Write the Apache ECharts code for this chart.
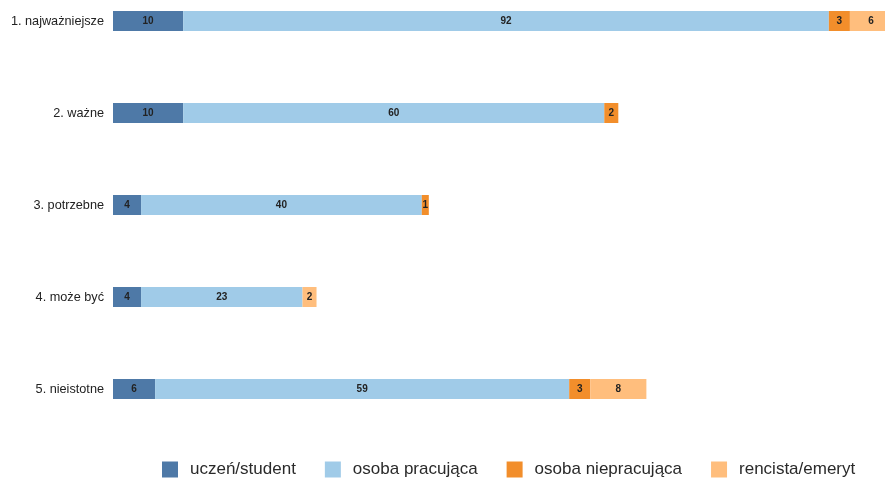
<!DOCTYPE html>
<html>
<head>
<meta charset="utf-8">
<script src="https://cdn.jsdelivr.net/npm/echarts@6/dist/echarts.min.js"></script>
<style>
  html, body { margin: 0; padding: 0; background: #fff; }
  #chart { width: 885px; height: 479px; }
</style>
</head>
<body>
<div id="chart"></div>
<script>
var kategorie = ['1. najważniejsze', '2. ważne', '3. potrzebne', '4. może być', '5. nieistotne'];
var uczen = [10, 10, 4, 4, 6];
var pracujaca = [92, 60, 40, 23, 59];
var niepracujaca = [3, 2, 1, null, 3];
var rencista = [6, null, null, 2, 8];

var dom = document.getElementById('chart');
var chart = echarts.init(dom, null, { renderer: 'canvas' });

function seria(name, data, color) {
    return {
        name: name,
        type: 'bar',
        stack: 'total',
        barWidth: 20,
        clip: false,
        data: data,
        itemStyle: { color: color },
        label: {
            show: true,
            position: 'inside',
            color: '#222',
            fontSize: 10,
            fontWeight: 'bold',
            fontFamily: 'Liberation Sans'
        }
    };
}

var option = {
    animation: false,
    // boundaryGap off: categories sit on the grid edges, 92px apart
    grid: { left: 113, right: 0, top: 21, bottom: 90 },
    legend: {
        left: 157,
        top: 456,
        itemWidth: 16,
        itemHeight: 16,
        itemGap: 29,
        icon: 'rect',
        textStyle: { fontSize: 17, color: '#2a2a2a', fontFamily: 'Liberation Sans', padding: [0, 0, 0, 7] },
        data: ['uczeń/student', 'osoba pracująca', 'osoba niepracująca', 'rencista/emeryt']
    },
    xAxis: {
        type: 'value',
        min: 0,
        max: 110,
        show: false
    },
    yAxis: {
        type: 'category',
        inverse: true,
        boundaryGap: false,
        data: kategorie,
        axisLine: { show: false },
        axisTick: { show: false },
        splitLine: { show: false },
        axisLabel: { fontSize: 12.7, color: '#222', margin: 9, fontFamily: 'Liberation Sans' }
    },
    series: [
        seria('uczeń/student', uczen, '#4e79a7'),
        seria('osoba pracująca', pracujaca, '#a0cbe8'),
        seria('osoba niepracująca', niepracujaca, '#f28e2b'),
        seria('rencista/emeryt', rencista, '#ffbe7d')
    ]
};

chart.setOption(option);
</script>
</body>
</html>
